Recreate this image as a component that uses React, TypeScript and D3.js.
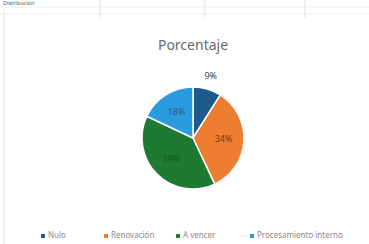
import React from "react";
import * as d3 from "d3";

const categories = ["Nulo", "Renovación", "A vencer", "Procesamiento interno"];
const values = [9, 34, 39, 18];
const colors = ["#1f5a8c", "#ed7d31", "#1e7a32", "#2b9be0"];
const labelColors = ["#404040", "#7a3a10", "#145224", "#1a5f8a"];

const W = 369;
const H = 244;

export default function App() {
  const cx = 193;
  const cy = 138;
  const r = 51;
  const pie = d3.pie<number>().sort(null).value((d) => d)(values);
  const arc = d3.arc<d3.PieArcDatum<number>>().innerRadius(0).outerRadius(r);
  const total = d3.sum(values);
  const labelR = (i: number) => (values[i] / total < 0.12 ? r * 1.25 : r * 0.6);

  const legendX = [43, 106, 178, 252];

  return (
    <svg
      width={W}
      height={H}
      style={{ position: "absolute", left: 0, top: 0, background: "#fff", fontFamily: "'Noto Sans', sans-serif" }}
    >
      <rect x={0} y={0} width={W} height={H} fill="#fff" />
      {[100, 205, 305].map((x) => (
        <line key={x} x1={x} x2={x} y1={0} y2={18} stroke="#e4e4e4" strokeWidth={1} />
      ))}
      {[7, 14].map((y) => (
        <line key={y} x1={0} x2={W} y1={y} y2={y} stroke="#ececec" strokeWidth={1} />
      ))}
      <line x1={4} x2={4} y1={10} y2={H} stroke="#e8e8e8" strokeWidth={1} />
      <text x={3} y={5} fontSize={5.5} fill="#555">Distribución</text>

      <text x={cx} y={50} textAnchor="middle" fontSize={14} fill="#6a6a6a">
        Porcentaje
      </text>

      <g transform={`translate(${cx},${cy})`}>
        {pie.map((p, i) => (
          <path key={i} d={arc(p) || ""} fill={colors[i]} stroke="#fff" strokeWidth={1.5} />
        ))}
        {pie.map((p, i) => {
          const a = (p.startAngle + p.endAngle) / 2;
          const lr = labelR(i);
          const x = Math.sin(a) * lr;
          const y = -Math.cos(a) * lr;
          return (
            <text
              key={i}
              x={x}
              y={y}
              textAnchor="middle"
              dominantBaseline="middle"
              fontSize={9}
              fill={labelColors[i]}
            >
              {`${values[i]}%`}
            </text>
          );
        })}
      </g>

      {categories.map((c, i) => (
        <g key={c} transform={`translate(${legendX[i]},236)`}>
          <rect x={-2} y={-2} width={4} height={4} fill={colors[i]} />
          <text x={5} y={0} dominantBaseline="middle" fontSize={8} fill="#8a8a8a">
            {c}
          </text>
        </g>
      ))}
    </svg>
  );
}
